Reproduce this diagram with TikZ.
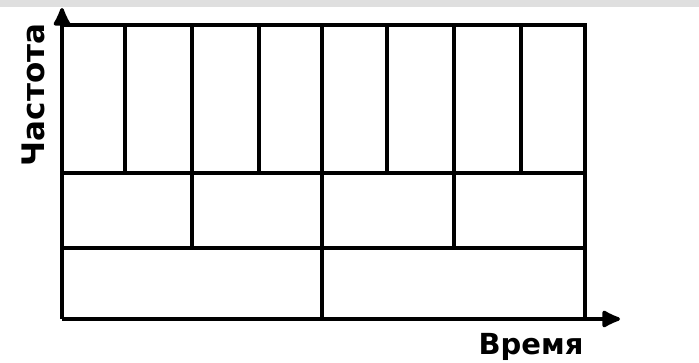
\documentclass[tikz,border=0pt]{standalone}
\usepackage{fontspec}
\setmainfont{DejaVu Sans}
\usetikzlibrary{arrows.meta}
\begin{document}
\begin{tikzpicture}[x=1pt,y=-1pt,
  grid/.style={line width=3.6pt},
  axis/.style={line width=3.6pt,-{Latex[length=22pt,width=20pt,round]}},
  lbl/.style={inner sep=0pt,font=\bfseries\fontsize{31}{31}\selectfont}]
\useasboundingbox (0,0) rectangle (699,363);
\fill[gray!25] (0,0) rectangle (699,7);
\coordinate (O) at (62,319);
\coordinate (ytip) at (62,8);
\coordinate (xtip) at (620,319);
% grid outline
\draw[grid] (62,25) -- (585,25) -- (585,319);
\draw[grid] (62,173) -- (585,173);
\draw[grid] (62,248) -- (585,248);
% top row dividers
\foreach \x in {125,192,259,322,387,454,521}
  \draw[grid] (\x,25) -- (\x,173);
% middle row dividers
\foreach \x in {192,322,454}
  \draw[grid] (\x,173) -- (\x,248);
% bottom row divider
\draw[grid] (322,248) -- (322,319);
% axes
\draw[axis] (O) -- (ytip);
\draw[axis] (O) -- (xtip);
\node[lbl,rotate=90] (fy) at (33,95) {Частота};
\node[lbl,font=\bfseries\fontsize{29}{29}\selectfont] (fx) at (531,347) {Время};
\end{tikzpicture}
\end{document}
